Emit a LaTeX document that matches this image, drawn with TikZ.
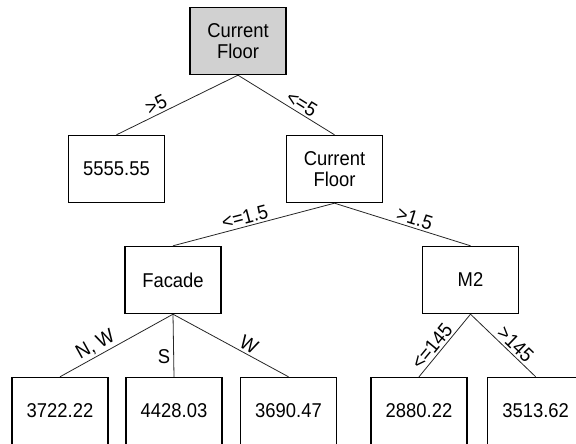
\documentclass[tikz,border=0pt]{standalone}
\usepackage{fontspec}
\setmainfont{Liberation Sans}[FakeStretch=0.92]
\begin{document}
\begin{tikzpicture}[x=1pt,y=1pt,
  box/.style={draw=black,line width=1.4pt,minimum width=96pt,minimum height=67pt,inner sep=0pt,align=center,font=\fontsize{20}{21.5}\selectfont},
  edge/.style={draw=black!85,line width=0.8pt},
  lbl/.style={sloped,above,inner sep=2pt,font=\fontsize{20}{21.5}\selectfont}]
\useasboundingbox (0,0) rectangle (576,444);
\node[box,fill=black!18] (root) at (238,403) {Current\\Floor};
\node[box] (l5) at (116.5,275) {5555.55};
\node[box] (cf) at (334.5,275) {Current\\Floor};
\node[box] (fa) at (173,164) {Facade};
\node[box] (m2) at (470.5,164) {M2};
\node[box] (a) at (60,33) {3722.22};
\node[box] (b) at (174,33) {4428.03};
\node[box] (c) at (288.5,33) {3690.47};
\node[box] (d) at (419,33) {2880.22};
\node[box] (e) at (535.7,33) {3513.62};
\draw[edge] (l5.north) -- node[lbl,pos=0.36] {>5} (root.south);
\draw[edge] (root.south) -- node[lbl,pos=0.61] {<=5} (cf.north);
\draw[edge] (fa.north) -- node[lbl,pos=0.46] {<=1.5} (cf.south);
\draw[edge] (cf.south) -- node[lbl,pos=0.57] {>1.5} (m2.north);
\draw[edge] (a.north) -- node[lbl,pos=0.36] {N, W} (fa.south);
\draw[edge] (fa.south) -- node[left,pos=0.67,inner sep=3pt,font=\fontsize{20}{21.5}\selectfont] {S} (b.north);
\draw[edge] (fa.south) -- node[lbl,pos=0.62] {W} (c.north);
\draw[edge] (d.north) -- node[lbl,pos=0.39] {<=145} (m2.south);
\draw[edge] (m2.south) -- node[lbl,pos=0.59] {>145} (e.north);
\end{tikzpicture}
\end{document}
